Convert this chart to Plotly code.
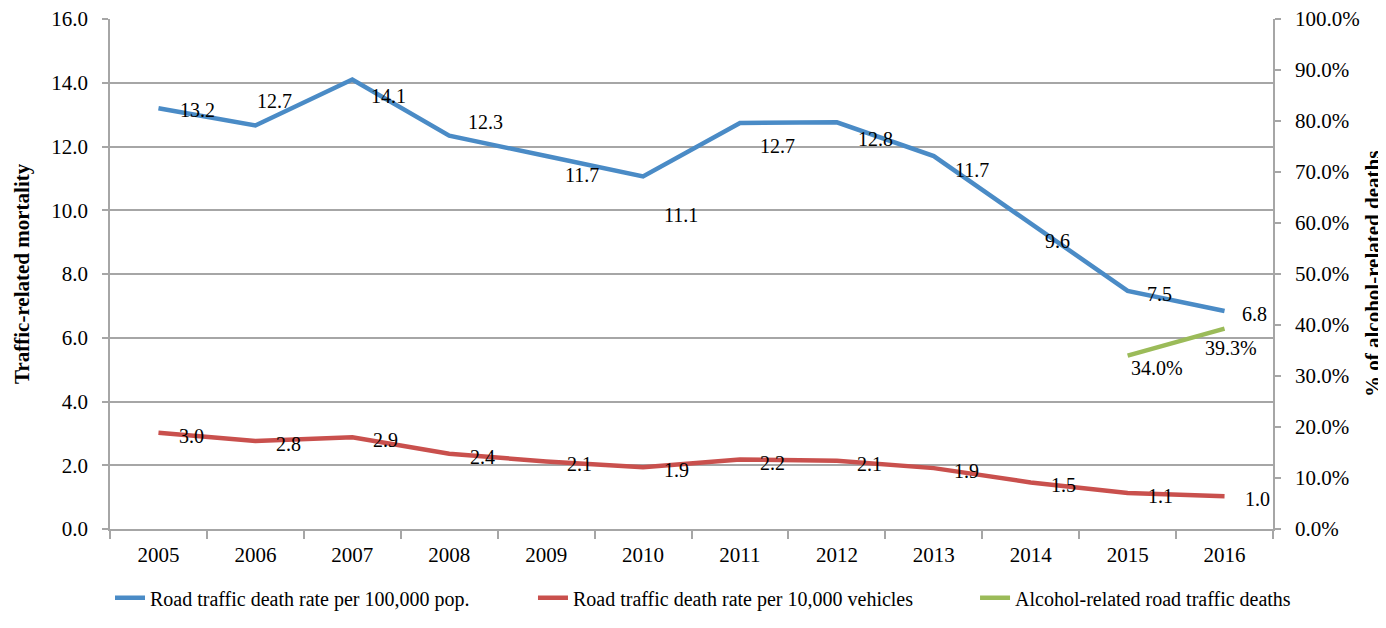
import plotly.graph_objs as go

years = ['2005', '2006', '2007', '2008', '2009', '2010',
         '2011', '2012', '2013', '2014', '2015', '2016']
rate_pop = [13.2, 12.66, 14.1, 12.34, 11.7, 11.06, 12.74, 12.76, 11.7, 9.6, 7.47, 6.84]
rate_veh = [3.02, 2.76, 2.88, 2.36, 2.12, 1.94, 2.18, 2.14, 1.91, 1.46, 1.13, 1.03]
alc_years = ['2015', '2016']
alc_share = [0.340, 0.393]

# label offsets (px) so the numbers sit like in the original sheet
pop_dx = [39, 19, 36, 36, 36, 38, 38, 39, 38, 27, 32, 30]
pop_dy = [-2, 24, -16, 14, -19, -39, -23, -17, -14, -18, -3, -3]
alc_dx = [29, 6]
alc_dy = [-12, -19]

BLUE = '#4A8BC6'
RED = '#C9504D'
GREEN = '#9BBB59'
GRAY = '#A6A6A6'
FONT = 'Liberation Serif, Times New Roman, serif'

fig = go.Figure()
fig.add_trace(go.Scatter(x=years, y=rate_pop, mode='lines', legend='legend',
                         name='Road traffic death rate per 100,000 pop.',
                         line=dict(color=BLUE, width=4.5)))
fig.add_trace(go.Scatter(x=years, y=rate_veh, mode='lines', legend='legend2',
                         name='Road traffic death rate per 10,000 vehicles',
                         line=dict(color=RED, width=4.5)))
fig.add_trace(go.Scatter(x=alc_years, y=alc_share, mode='lines', yaxis='y2', legend='legend3',
                         name='Alcohol-related road traffic deaths',
                         line=dict(color=GREEN, width=4.5)))

# annotations on a category axis take the category index
notes = []
for i, yr in enumerate(years):
    notes.append(dict(x=i, y=rate_pop[i], text='%.1f' % rate_pop[i], showarrow=False,
                      xshift=pop_dx[i], yshift=pop_dy[i],
                      font=dict(family=FONT, size=20, color='black')))
    notes.append(dict(x=i, y=rate_veh[i], text='%.1f' % rate_veh[i], showarrow=False,
                      xshift=33, yshift=-3,
                      font=dict(family=FONT, size=20, color='black')))
for i, yr in enumerate(alc_years):
    notes.append(dict(x=years.index(yr), y=alc_share[i], yref='y2',
                      text='%.1f%%' % (alc_share[i] * 100),
                      showarrow=False, xshift=alc_dx[i], yshift=alc_dy[i],
                      font=dict(family=FONT, size=20, color='black')))

notes.append(dict(x=0, y=0.5, xref='paper', yref='paper', xshift=-88, textangle=-90,
                  xanchor='center', yanchor='middle',
                  text='<b>Traffic-related mortality</b>', showarrow=False,
                  font=dict(family=FONT, size=21, color='black')))
notes.append(dict(x=1, y=0.5, xref='paper', yref='paper', xshift=100, textangle=-90,
                  xanchor='center', yanchor='middle',
                  text='<b>% of alcohol-related deaths</b>', showarrow=False,
                  font=dict(family=FONT, size=21, color='black')))

legend_style = dict(orientation='h', xanchor='left', y=-0.135, yanchor='middle',
                    font=dict(family=FONT, size=20, color='black'), bgcolor='rgba(0,0,0,0)')

# the page body adds an 8px margin, so the figure is a bit smaller than the window
fig.update_layout(
    width=1378, height=620, autosize=False,
    margin=dict(l=102, r=113, t=11, b=84),
    paper_bgcolor='white', plot_bgcolor='white',
    font=dict(family=FONT, size=21, color='black'),
    showlegend=True,
    xaxis=dict(type='category', categoryorder='array', categoryarray=years,
               range=[-0.5, len(years) - 0.5], automargin=False,
               showgrid=False, showline=True, linecolor=GRAY, linewidth=1.5,
               ticks='outside', tickson='boundaries', ticklen=8, tickcolor=GRAY,
               tickwidth=1.5, ticklabelstandoff=6),
    yaxis=dict(range=[0, 16], dtick=2, tickformat='.1f', showgrid=True, gridcolor=GRAY,
               gridwidth=1.5, showline=True, linecolor=GRAY, linewidth=1.5, zeroline=False,
               automargin=False, ticklabeloverflow='allow',
               ticks='outside', ticklen=6, tickcolor=GRAY, tickwidth=1.5, ticklabelstandoff=10),
    yaxis2=dict(range=[0, 1], dtick=0.1, tickformat='.1%', overlaying='y', side='right',
                showgrid=False, showline=True, linecolor=GRAY, linewidth=1.5, zeroline=False,
                automargin=False, ticklabeloverflow='allow',
                ticks='outside', ticklen=6, tickcolor=GRAY, tickwidth=1.5, ticklabelstandoff=10),
    legend=dict(x=0.0, **legend_style),
    legend2=dict(x=0.3637, **legend_style),
    legend3=dict(x=0.7438, **legend_style),
    annotations=notes,
)

fig.write_html("out.html")
